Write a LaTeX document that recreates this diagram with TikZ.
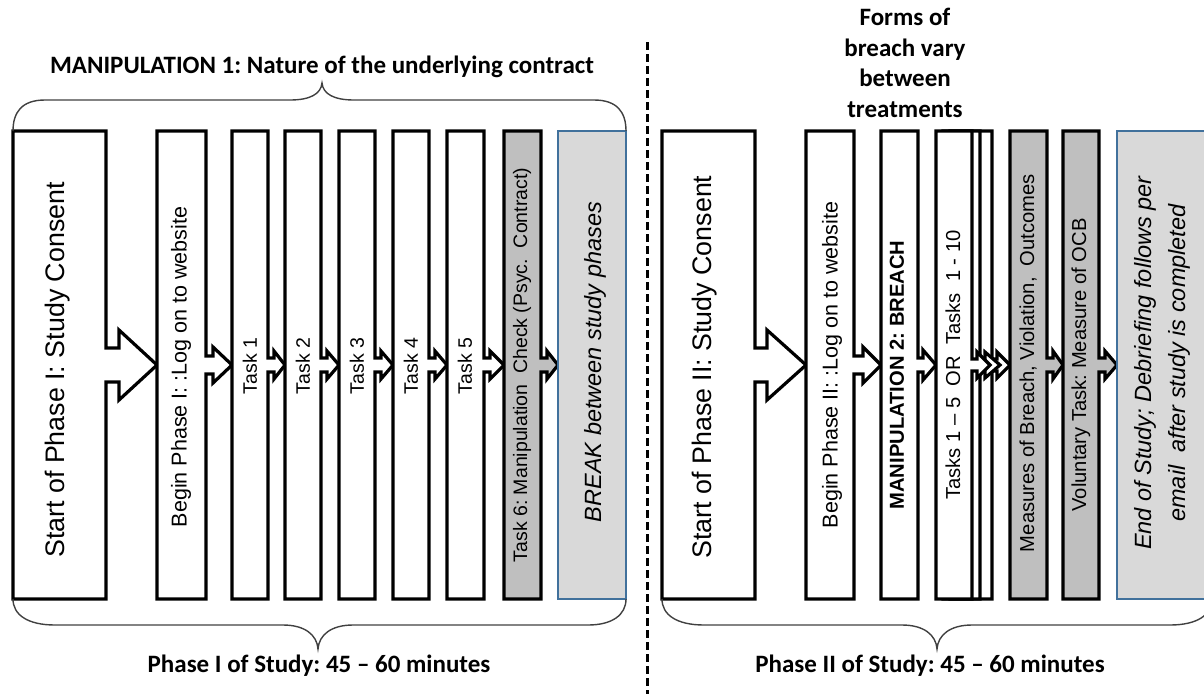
\documentclass[tikz,border=0pt]{standalone}
\usepackage{fontspec}
\setmainfont{Liberation Sans}
\newfontfamily\calfont{Carlito}
\frenchspacing
\definecolor{boxgray}{HTML}{BFBFBF}
\definecolor{paleshade}{HTML}{D9D9D9}
\definecolor{blueedge}{HTML}{41719C}
\definecolor{bracegray}{HTML}{404040}
% #1 style, #2 left, #3 right, #4 neck end, #5 tip, #6 neck half, #7 head half
\newcommand\callshape[7]{%
  \path[#1] (#2,131) -- (#3,131) -- (#3,{365-#6}) -- (#4,{365-#6}) -- (#4,{365-#7}) -- (#5,365)
    -- (#4,{365+#7}) -- (#4,{365+#6}) -- (#3,{365+#6}) -- (#3,599) -- (#2,599) -- cycle;}
\tikzset{
  stepbox/.style={draw=black, line width=3.2pt, line join=miter, fill=white},
  graybox/.style={stepbox, fill=boxgray},
  restbox/.style={draw=blueedge, line width=2.2pt, fill=paleshade},
  bracepath/.style={draw=bracegray, line width=1.4pt},
  vtext/.style={rotate=90, inner sep=0pt, anchor=center},
  titletext/.style={font=\calfont\bfseries\fontsize{25}{30.5}\selectfont, align=center, inner sep=0pt},
  bigtxt/.style={font=\fontsize{26.8}{32}\selectfont},
  midtxt/.style={font=\fontsize{21.5}{26}\selectfont},
  smalltxt/.style={font=\fontsize{19.5}{23}\selectfont},
  boxtxt/.style={font=\fontsize{20.2}{24}\selectfont},
  ittxt/.style={font=\itshape\fontsize{23.5}{34}\selectfont, align=center},
}
\begin{document}
\begin{tikzpicture}[x=1pt,y=-1pt]
\useasboundingbox (0,0) rectangle (1204,694);
% ---------- Phase I shapes ----------
\callshape{stepbox}{13}{106}{119}{157}{17}{35}
\callshape{stepbox}{157}{206}{213}{232}{9}{18}
\callshape{stepbox}{232}{268}{274}{285}{7}{14}
\callshape{stepbox}{285}{321}{327}{339}{7}{14}
\callshape{stepbox}{339}{375}{381}{393}{7}{14}
\callshape{stepbox}{393}{429}{435}{447}{7}{14}
\callshape{stepbox}{447}{484}{490}{504}{7}{14}
\callshape{graybox}{504}{541}{547}{558}{7}{14}
\path[restbox] (558,131) rectangle (626,599);
% ---------- Phase II shapes ----------
\callshape{stepbox}{662}{755}{767}{806}{17}{35}
\callshape{stepbox}{806}{854}{863}{881}{9}{18}
\callshape{stepbox}{881}{918}{923}{936}{7}{15}
\callshape{stepbox}{950}{992}{997}{1010}{6}{13}
\callshape{stepbox}{943}{980}{985}{1000}{6}{13}
\callshape{stepbox}{936}{972}{977}{990}{6}{13}
\callshape{graybox}{1010}{1047}{1053}{1063}{7}{14}
\callshape{graybox}{1063}{1099}{1105}{1117}{7}{14}
\path[restbox] (1117,131) rectangle (1214,599);
% ---------- texts in boxes ----------
\node[vtext, bigtxt] (s1) at (58,370) {Start of Phase I: Study Consent};
\node[vtext, midtxt] (b1) at (181,367) {Begin Phase I: :Log on to website};
\node[vtext, smalltxt] (k1) at (250,366) {Task 1};
\node[vtext, smalltxt] (k2) at (303,366) {Task 2};
\node[vtext, smalltxt] (k3) at (357,366) {Task 3};
\node[vtext, smalltxt] (k4) at (411,366) {Task 4};
\node[vtext, smalltxt] (k5) at (465,366) {Task 5};
\node[vtext, smalltxt] (k6) at (522,365) {Task 6: Manipulation\ \ Check (Psyc.\ \ Contract)};
\node[vtext, ittxt] (br) at (595,362) {BREAK between study phases};
\node[vtext, bigtxt] (s2) at (705,367) {Start of Phase II: Study Consent};
\node[vtext, midtxt] (b2) at (832,365) {Begin Phase II: :Log on to website};
\node[vtext, boxtxt, font=\bfseries\fontsize{20.2}{24}\selectfont] (m2) at (897,375) {MANIPULATION 2: BREACH};
\node[vtext, boxtxt] (tk) at (953,365) {Tasks 1 – 5\ \ OR\ \ Tasks\ \ 1 - 10};
\node[vtext, boxtxt] (ms) at (1028,363) {Measures of Breach, Violation,\ \ Outcomes};
\node[vtext, boxtxt] (vt) at (1081,365) {Voluntary Task: Measure of OCB};
\node[vtext, ittxt] (en) at (1162,363) {End of Study; Debriefing follows per\\email\ \ after study is completed};
% ---------- braces ----------
\draw[bracepath] (13,131) .. controls (13,112) and (22,100) .. (45,100) -- (290,100)
  .. controls (310,100) and (321,94) .. (322,83) .. controls (323,94) and (334,100) .. (354,100)
  -- (594,100) .. controls (617,100) and (626,112) .. (626,131);
\draw[bracepath] (13,599) .. controls (13,615) and (28,625) .. (55,625) -- (283,625)
  .. controls (305,625) and (317,635) .. (318,649) .. controls (319,635) and (331,625) .. (353,625)
  -- (588,625) .. controls (612,625) and (626,615) .. (626,599);
\draw[bracepath] (662,599) .. controls (662,615) and (677,625) .. (704,625) -- (902,625)
  .. controls (924,625) and (936,635) .. (937,649) .. controls (938,635) and (950,625) .. (972,625)
  -- (1170,625) .. controls (1197,625) and (1212,615) .. (1212,599);
% ---------- titles ----------
\node[titletext] (m1) at (322,67) {MANIPULATION 1: Nature of the underlying contract};
\node[titletext] (p1) at (319,666) {Phase I of Study: 45 – 60 minutes};
\node[titletext] (p2) at (930,666) {Phase II of Study: 45 – 60 minutes};
\node[titletext] (fb) at (905,63) {Forms of\\breach vary\\between\\treatments};
% ---------- divider ----------
\coordinate (dtop) at (647,42);
\coordinate (dbot) at (647,694);
\draw[line width=3pt, dash pattern=on 8pt off 4pt] (dtop) -- (dbot);
\end{tikzpicture}
\end{document}
